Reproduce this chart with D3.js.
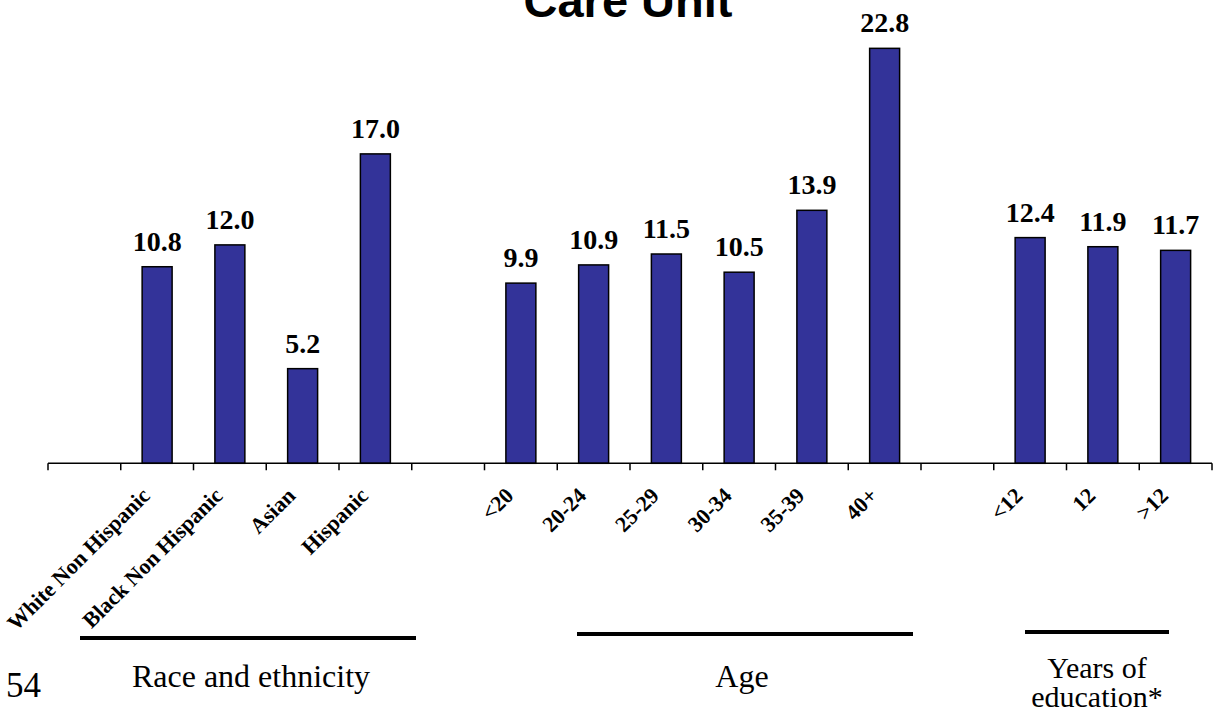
<!DOCTYPE html>
<html>
<head>
<meta charset="utf-8">
<script src="https://cdn.jsdelivr.net/npm/d3@7"></script>
<style>
  html, body { margin: 0; padding: 0; background: #fff; }
  svg { display: block; }
</style>
</head>
<body>
<svg id="chart" width="1215" height="713"></svg>
<script>
// ---- data ----
const categories = ["_b0", "White Non Hispanic", "Black Non Hispanic", "Asian", "Hispanic", "_b1",
                    "<20", "20-24", "25-29", "30-34", "35-39", "40+", "_b2",
                    "<12", "12", ">12"];
const values = [null, 10.8, 12.0, 5.2, 17.0, null,
                9.9, 10.9, 11.5, 10.5, 13.9, 22.8, null,
                12.4, 11.9, 11.7];
const groupNames = ["Race and ethnicity", "Age", "Years of|education*"];
const titleText = "Care Unit";
const pageNumber = "54";

// ---- layout ----
const svg = d3.select("#chart");
const x = d3.scaleBand().domain(categories).range([48, 1212]).paddingInner(0.588).paddingOuter(0.294);
const y = d3.scaleLinear().domain([0, 25]).range([463.3, 8.3]);
const data = categories.map((c, i) => ({ c, v: values[i] })).filter(d => d.v !== null);
const step = x.step();

// title
svg.append("text")
  .attr("x", 628).attr("y", 17)
  .attr("text-anchor", "middle")
  .attr("font-family", "Liberation Sans, Arial, sans-serif")
  .attr("font-weight", "bold")
  .attr("font-size", 47)
  .text(titleText);

// bars
svg.selectAll("rect.bar").data(data).enter().append("rect")
  .attr("class", "bar")
  .attr("x", d => x(d.c))
  .attr("y", d => y(d.v))
  .attr("width", x.bandwidth())
  .attr("height", d => y(0) - y(d.v))
  .attr("fill", "#333399")
  .attr("stroke", "#000")
  .attr("stroke-width", 1.5);

// value labels
svg.selectAll("text.val").data(data).enter().append("text")
  .attr("class", "val")
  .attr("x", d => x(d.c) + x.bandwidth() / 2)
  .attr("y", d => y(d.v) - 16)
  .attr("text-anchor", "middle")
  .attr("font-family", "Liberation Serif, Times New Roman, serif")
  .attr("font-weight", "bold")
  .attr("font-size", 28)
  .text(d => d.v.toFixed(1));

// axis with ticks at band boundaries
const axisG = svg.append("g");
axisG.append("line")
  .attr("x1", 48).attr("x2", 1212)
  .attr("y1", y(0)).attr("y2", y(0))
  .attr("stroke", "#000").attr("stroke-width", 1.5);
const tickPositions = categories.map(c => x(c) - (step - x.bandwidth()) / 2).concat([1212]);
axisG.selectAll("line.tick").data(tickPositions).enter().append("line")
  .attr("class", "tick")
  .attr("x1", d => d).attr("x2", d => d)
  .attr("y1", y(0)).attr("y2", y(0) + 7)
  .attr("stroke", "#000").attr("stroke-width", 1.5);

// category labels (rotated)
svg.selectAll("text.cat").data(data).enter().append("text")
  .attr("class", "cat")
  .attr("transform", d => `translate(${x(d.c) + x.bandwidth() / 2 - 6},${497}) rotate(-45)`)
  .attr("text-anchor", "end")
  .attr("font-family", "Liberation Serif, Times New Roman, serif")
  .attr("font-weight", "bold")
  .attr("font-size", 22)
  .text(d => d.c);

// group lines and labels
const groupLine = [[80, 416, 638], [577, 913, 634], [1025, 1169, 632]];
const groupText = [[251, 687], [742, 687], [1097, 678]];
groupNames.forEach((g, i) => {
  svg.append("line")
    .attr("x1", groupLine[i][0]).attr("x2", groupLine[i][1])
    .attr("y1", groupLine[i][2]).attr("y2", groupLine[i][2])
    .attr("stroke", "#000").attr("stroke-width", 4);
  const t = svg.append("text")
    .attr("x", groupText[i][0]).attr("y", groupText[i][1])
    .attr("text-anchor", "middle")
    .attr("font-family", "Liberation Serif, Times New Roman, serif")
    .attr("font-size", i === 2 ? 30 : 32);
  g.split("|").forEach((line, j) => {
    t.append("tspan").attr("x", groupText[i][0]).attr("dy", j === 0 ? 0 : 29).text(line);
  });
});

// page number
svg.append("text")
  .attr("x", 6).attr("y", 697)
  .attr("font-family", "Liberation Serif, Times New Roman, serif")
  .attr("font-size", 35)
  .text(pageNumber);
</script>
</body>
</html>
